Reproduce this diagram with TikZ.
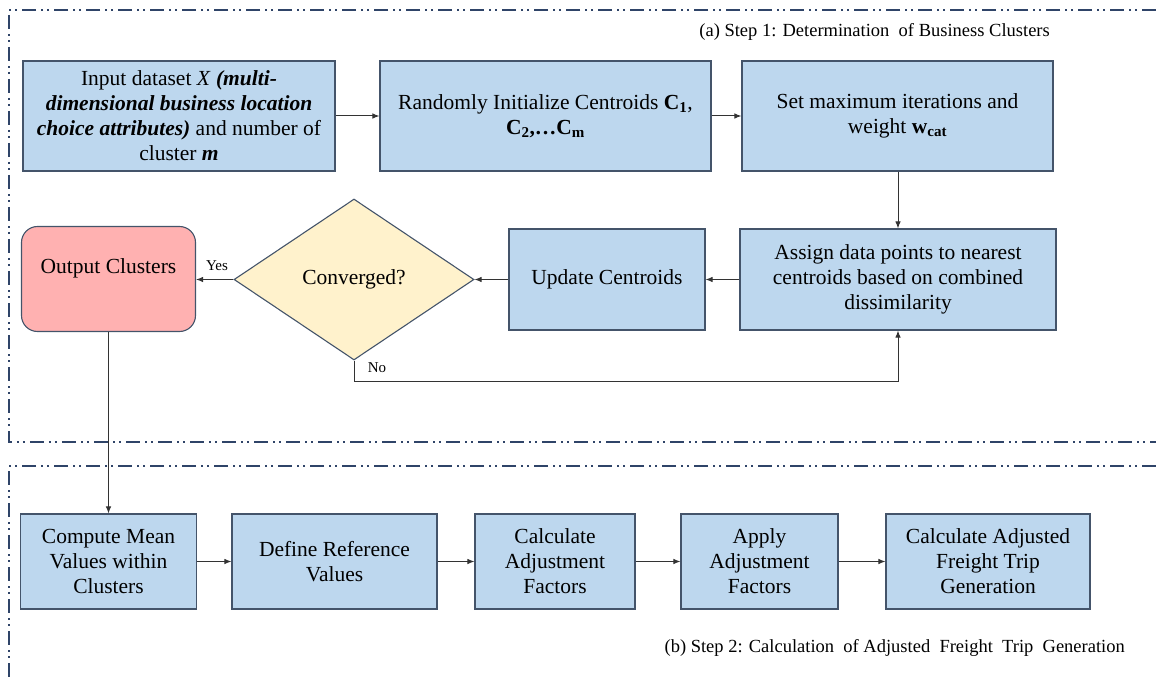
\documentclass[tikz,border=0pt]{standalone}
\usepackage{fontspec}
\setmainfont{Liberation Serif}
\usetikzlibrary{shapes.geometric,arrows.meta}
\definecolor{boxfill}{HTML}{BDD7EE}
\definecolor{boxline}{HTML}{44546A}
\definecolor{pinkfill}{HTML}{FFB1B1}
\definecolor{yellowfill}{HTML}{FFF2CC}
\definecolor{framecol}{HTML}{2F4468}
\tikzset{
  procbox/.style={draw=boxline, fill=boxfill, line width=1.1pt, rectangle, align=center,
    inner sep=2pt, font=\rmfamily\fontsize{21.5}{25}\selectfont, anchor=center},
  arr/.style={-{Latex[length=7pt,width=5.5pt]}, line width=1pt, draw=black!80},
  framestyle/.style={draw=framecol, line width=2pt,
    dash pattern=on 14pt off 5pt on 2pt off 4pt on 2pt off 5pt},
  lbl/.style={font=\rmfamily\fontsize{15}{17}\selectfont, inner sep=0pt},
  captext/.style={font=\rmfamily\fontsize{18.5}{21}\selectfont, inner sep=0pt}
}
\begin{document}
\begin{tikzpicture}[x=1pt,y=-1pt]
\useasboundingbox (0,0) rectangle (1156,679);
% frames
\draw[framestyle] (1156,10) -- (9,10) -- (9,442) -- (1156,442);
\draw[framestyle] (1156,466) -- (9,466) -- (9,679);
% captions
\node[captext, anchor=base east] (capa) at (1050,37) {(a) Step 1: Determination\ \ of Business Clusters};
\node[captext, anchor=base east] (capb) at (1125,652) {(b) Step 2: Calculation\ \ of Adjusted\ \ Freight\ \ Trip\ \ Generation};
% top row
\node[procbox, minimum width=312pt, minimum height=110pt] (b1) at (179,116)
  {Input dataset \textit{X} \textbf{\textit{(multi-}}\\
   \textbf{\textit{dimensional business location}}\\
   \textbf{\textit{choice attributes)}} and number of\\
   cluster \textbf{\textit{m}}};
\node[procbox, minimum width=331pt, minimum height=110pt] (b2) at (545.5,116)
  {Randomly Initialize Centroids \textbf{C\textsubscript{1}},\\
   \textbf{C\textsubscript{2},…C\textsubscript{m}}};
\node[procbox, minimum width=311pt, minimum height=110pt] (b3) at (897.5,116)
  {Set maximum iterations and\\ weight \textbf{w\textsubscript{cat}}};
% middle row
\node[procbox, minimum width=316pt, minimum height=101pt] (b4) at (898,279.5)
  {Assign data points to nearest\\ centroids based on combined\\ dissimilarity};
\node[procbox, minimum width=196pt, minimum height=101pt] (upd) at (607,279.5)
  {Update Centroids};
\node[draw=boxline, fill=yellowfill, line width=1.1pt, diamond, minimum width=240pt,
  minimum height=161pt, inner sep=0pt, font=\rmfamily\fontsize{21.5}{25}\selectfont] (conv) at (354,279.5)
  {Converged?};
\node[procbox, fill=pinkfill, rounded corners=16pt, minimum width=174pt, minimum height=105pt,
  text height=15pt, text depth=26pt] (out) at (108.5,279) {Output Clusters};
% bottom row
\node[procbox, minimum width=176pt, minimum height=95pt] (c1) at (108.5,561.5)
  {Compute Mean\\ Values within\\ Clusters};
\node[procbox, minimum width=205pt, minimum height=95pt] (c2) at (334.5,561.5)
  {Define Reference\\ Values};
\node[procbox, minimum width=160pt, minimum height=95pt] (c3) at (555,561.5)
  {Calculate\\ Adjustment\\ Factors};
\node[procbox, minimum width=157pt, minimum height=95pt] (c4) at (759.5,561.5)
  {Apply\\ Adjustment\\ Factors};
\node[procbox, minimum width=204pt, minimum height=95pt] (c5) at (988,561.5)
  {Calculate Adjusted\\ Freight Trip\\ Generation};
% connectors
\draw[arr] (b1) -- (b2);
\draw[arr] (b2) -- (b3);
\draw[arr] (b3.south -| b4.north) -- (b4.north);
\draw[arr] (b4) -- (upd);
\draw[arr] (upd.west) -- (conv.east);
\draw[arr] (conv.west) -- (out.east |- conv.west);
\coordinate (nl) at (354,381);
\draw[arr] (conv.south) -- (nl) -- (nl -| b4.south) -- (b4.south);
\draw[arr] (out.south) -- (c1.north);
\draw[arr] (c1) -- (c2);
\draw[arr] (c2) -- (c3);
\draw[arr] (c3) -- (c4);
\draw[arr] (c4) -- (c5);
\node[lbl, anchor=base] (yes) at (217,270) {Yes};
\node[lbl, anchor=base] (no) at (377,372) {No};
\end{tikzpicture}
\end{document}
